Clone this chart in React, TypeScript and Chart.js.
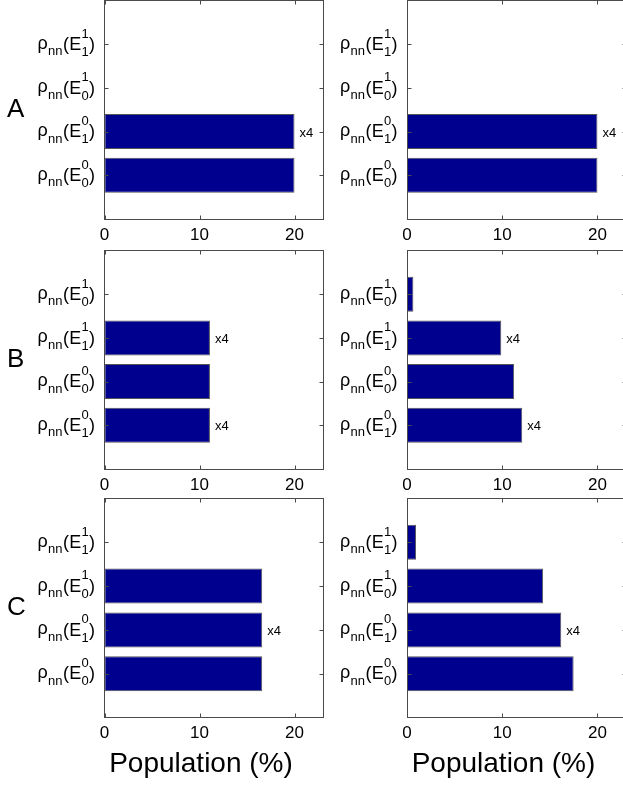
import React, { useEffect, useRef } from "react";
import { Chart, registerables } from "chart.js";

Chart.register(...registerables);

const FONT = "'Liberation Sans', Arial, Helvetica, sans-serif";
const BAR_COLOR = "#00008F";
const EDGE_COLOR = "#555555";
const AXIS_COLOR = "#4a4a4a";

// ---- data ----
const xTicks = [0, 10, 20];
const xMax = 23;
const yMax = 5;
const xAxisTitle = "Population (%)";
const rowLetters = ["A", "B", "C"];

// categories listed bottom -> top
const labelsA = ["ρ_nn(E^0_0)", "ρ_nn(E^0_1)", "ρ_nn(E^1_0)", "ρ_nn(E^1_1)"];
const valuesALeft = [20, 20, 0, 0];
const valuesARight = [20, 20, 0, 0];
const factorsA = [1, 4, 1, 1];

const labelsB = ["ρ_nn(E^0_1)", "ρ_nn(E^0_0)", "ρ_nn(E^1_1)", "ρ_nn(E^1_0)"];
const valuesBLeft = [11.1, 11.1, 11.1, 0];
const valuesBRight = [12.1, 11.25, 9.9, 0.67];
const factorsB = [4, 1, 4, 1];

const labelsC = ["ρ_nn(E^0_0)", "ρ_nn(E^0_1)", "ρ_nn(E^1_0)", "ρ_nn(E^1_1)"];
const valuesCLeft = [16.6, 16.6, 16.6, 0];
const valuesCRight = [17.5, 16.2, 14.3, 0.95];
const factorsC = [1, 4, 1, 1];

// ---- layout ----
const COLS = [
  { left: 0, width: 330, frameLeft: 104.5, frameRight: 323 },
  { left: 330, width: 310, frameLeft: 407, frameRight: 626 },
];
const ROWS = [
  { top: 0, height: 250, frameTop: 0.5, frameBottom: 219 },
  { top: 250, height: 249, frameTop: 250.5, frameBottom: 469 },
  { top: 498, height: 289, frameTop: 498.5, frameBottom: 717.5 },
];

function parseLabel(s: string) {
  const m = s.match(/^(.)_(\w+)\((\w)\^(\w)_(\w)\)$/);
  if (!m) return null;
  return { sym: m[1], symSub: m[2], base: m[3], sup: m[4], sub: m[5] };
}

function drawRichLabel(ctx: CanvasRenderingContext2D, text: string, right: number, cy: number) {
  const p = parseLabel(text);
  ctx.save();
  ctx.fillStyle = "#000";
  ctx.textAlign = "left";
  ctx.textBaseline = "alphabetic";
  const main = `18px ${FONT}`;
  const small = `13px ${FONT}`;
  if (!p) {
    ctx.font = main;
    ctx.textAlign = "right";
    ctx.fillText(text, right, cy + 6);
    ctx.restore();
    return;
  }
  const gap = 0.3;
  const mw = (f: string, t: string) => {
    ctx.font = f;
    return ctx.measureText(t).width;
  };
  const wSym = mw(main, p.sym);
  const wSymSub = mw(small, p.symSub);
  const wOpen = mw(main, "(");
  const wBase = mw(main, p.base);
  const wScript = Math.max(mw(small, p.sup), mw(small, p.sub));
  const wClose = mw(main, ")");
  const total = wSym + wSymSub + wOpen + wBase + wScript + wClose + gap * 5;
  let x = right - total;
  const base = cy + 5.7;
  ctx.font = main;
  ctx.fillText(p.sym, x, cy + 4.5);
  x += wSym + gap;
  ctx.font = small;
  ctx.fillText(p.symSub, x, cy + 11);
  x += wSymSub + gap;
  ctx.font = main;
  ctx.fillText("(", x, base);
  x += wOpen + gap;
  ctx.fillText(p.base, x, base);
  x += wBase + gap;
  ctx.font = small;
  ctx.fillText(p.sup, x, cy - 6.7);
  ctx.fillText(p.sub, x, cy + 11.7);
  x += wScript + gap;
  ctx.font = main;
  ctx.fillText(")", x, base);
  ctx.restore();
}

type PanelProps = {
  col: number;
  row: number;
  labels: string[];
  values: number[];
  factors: number[];
};

function Panel({ col, row, labels, values, factors }: PanelProps) {
  const ref = useRef<HTMLCanvasElement>(null);
  const c = COLS[col];
  const r = ROWS[row];
  useEffect(() => {
    const canvas = ref.current;
    if (!canvas) return;
    const frameLeft = c.frameLeft - c.left;
    const frameRight = c.frameRight - c.left;
    const frameTop = r.frameTop - r.top;
    const frameBottom = r.frameBottom - r.top;
    const letter = col === 0 ? rowLetters[row] : null;
    const showTitle = row === ROWS.length - 1;

    const plugin = {
      id: "matlabFrame",
      afterDatasetsDraw(chart: any) {
        const ctx: CanvasRenderingContext2D = chart.ctx;
        const area = chart.chartArea;
        const xs = chart.scales.x;
        const ys = chart.scales.y;
        ctx.save();
        ctx.strokeStyle = AXIS_COLOR;
        ctx.lineWidth = 1;
        const L = Math.floor(area.left) + 0.5;
        const R = Math.floor(area.right) + 0.5;
        const T = Math.floor(area.top) + 0.5;
        const B = Math.floor(area.bottom) + 0.5;
        ctx.strokeRect(L, T, R - L, B - T);
        const tl = 4;
        ctx.beginPath();
        xTicks.forEach((v) => {
          const px = Math.round(xs.getPixelForValue(v)) + 0.5;
          ctx.moveTo(px, B);
          ctx.lineTo(px, B - tl);
          ctx.moveTo(px, T);
          ctx.lineTo(px, T + tl);
        });
        labels.forEach((_, i) => {
          const py = Math.round(ys.getPixelForValue(i + 1)) + 0.5;
          ctx.moveTo(L, py);
          ctx.lineTo(L + tl, py);
          ctx.moveTo(R, py);
          ctx.lineTo(R - tl, py);
        });
        ctx.stroke();
        ctx.restore();

        labels.forEach((lab, i) => {
          const py = ys.getPixelForValue(i + 1);
          drawRichLabel(ctx, lab, area.left - 9.5, py);
        });

        ctx.save();
        ctx.fillStyle = "#000";
        ctx.font = `13px ${FONT}`;
        ctx.textAlign = "left";
        ctx.textBaseline = "middle";
        values.forEach((v, i) => {
          if (factors[i] !== 1) {
            const px = xs.getPixelForValue(v);
            const py = ys.getPixelForValue(i + 1);
            ctx.fillText("x" + factors[i], px + 5, py + 1.5);
          }
        });
        if (letter) {
          ctx.font = `26px ${FONT}`;
          ctx.textBaseline = "alphabetic";
          ctx.fillText(letter, 7, area.top + 116);
        }
        if (showTitle) {
          ctx.font = `28px ${FONT}`;
          ctx.textAlign = "center";
          ctx.textBaseline = "alphabetic";
          ctx.fillText(xAxisTitle, area.left + 96.5, area.bottom + 54);
        }
        ctx.restore();
      },
    };

    const chart = new Chart(canvas, {
      type: "bar",
      data: {
        datasets: [
          {
            data: values.map((v, i) => ({ x: v, y: i + 1 })),
            backgroundColor: BAR_COLOR,
            borderColor: EDGE_COLOR,
            borderWidth: 1,
            borderSkipped: false,
            categoryPercentage: 1,
            barPercentage: 0.8,
          } as any,
        ],
      },
      options: {
        indexAxis: "y",
        responsive: false,
        maintainAspectRatio: false,
        animation: false,
        devicePixelRatio: 1,
        events: [],
        layout: {
          padding: {
            left: frameLeft,
            right: c.width - frameRight,
            top: frameTop,
            bottom: 0,
          },
        },
        plugins: {
          legend: { display: false },
          tooltip: { enabled: false },
          title: { display: false },
        },
        scales: {
          y: {
            type: "linear",
            min: 0,
            max: yMax,
            offset: false,
            grace: 0,
            display: false,
            afterBuildTicks: (s: any) => {
              s.ticks = labels.map((_, i) => ({ value: i + 1 }));
            },
          },
          x: {
            type: "linear",
            position: "bottom",
            min: 0,
            max: xMax,
            offset: false,
            grid: { display: false, drawTicks: false },
            border: { display: false },
            ticks: {
              font: { family: FONT, size: 17 },
              color: "#000",
              padding: 6,
              maxRotation: 0,
              autoSkip: false,
            },
            afterBuildTicks: (s: any) => {
              s.ticks = xTicks.map((v) => ({ value: v }));
            },
            afterFit: (s: any) => {
              s.height = r.height - frameBottom;
            },
          },
        },
      } as any,
      plugins: [plugin],
    });
    return () => chart.destroy();
  }, []);
  return (
    <canvas
      ref={ref}
      width={c.width}
      height={r.height}
      style={{ position: "absolute", left: c.left, top: r.top, width: c.width, height: r.height }}
    />
  );
}

export default function App() {
  return (
    <div
      style={{
        position: "absolute",
        left: 0,
        top: 0,
        width: 623,
        height: 787,
        overflow: "hidden",
        background: "#fff",
      }}
    >
      <Panel col={0} row={0} labels={labelsA} values={valuesALeft} factors={factorsA} />
      <Panel col={1} row={0} labels={labelsA} values={valuesARight} factors={factorsA} />
      <Panel col={0} row={1} labels={labelsB} values={valuesBLeft} factors={factorsB} />
      <Panel col={1} row={1} labels={labelsB} values={valuesBRight} factors={factorsB} />
      <Panel col={0} row={2} labels={labelsC} values={valuesCLeft} factors={factorsC} />
      <Panel col={1} row={2} labels={labelsC} values={valuesCRight} factors={factorsC} />
    </div>
  );
}
